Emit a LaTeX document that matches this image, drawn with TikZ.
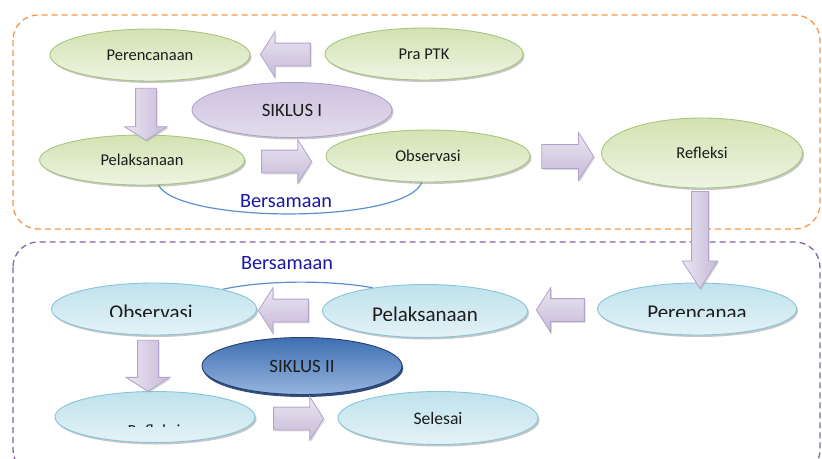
\documentclass[tikz,border=0pt]{standalone}
\usepackage{fontspec}
\setmainfont{Carlito}
\usetikzlibrary{shapes.geometric,shapes.arrows,shadows}
\pgfdeclarelayer{background}
\pgfsetlayers{background,main}
\definecolor{grnB}{HTML}{A9C47F}
\definecolor{grnT}{HTML}{D3E2B2}
\definecolor{grnL}{HTML}{EEF4E2}
\definecolor{bluB}{HTML}{86C5D8}
\definecolor{bluT}{HTML}{BFE2EC}
\definecolor{bluL}{HTML}{E4F2F7}
\definecolor{sikB}{HTML}{B0A1CC}
\definecolor{sikT}{HTML}{CDC2DF}
\definecolor{sikL}{HTML}{E3DCEC}
\definecolor{sknB}{HTML}{243F6E}
\definecolor{sknT}{HTML}{3F6FB2}
\definecolor{sknL}{HTML}{96B5DE}
\definecolor{arrB}{HTML}{B3A3CB}
\definecolor{arrL}{HTML}{EAE5F1}
\definecolor{arrD}{HTML}{C6BAD8}
\definecolor{orgD}{HTML}{F79646}
\definecolor{purD}{HTML}{8064A2}
\definecolor{curv}{HTML}{5B8FD0}
\definecolor{bers}{HTML}{1818A4}
\definecolor{txt}{HTML}{1C1C1C}
\tikzset{
  ell/.style={ellipse, inner sep=0pt, line width=0.9pt, text=txt,
    drop shadow={shadow xshift=1.5pt, shadow yshift=-2pt, fill=black!50, opacity=0.45}},
  grn/.style={ell, draw=grnB, top color=grnT, bottom color=grnL, font=\fontsize{16.5}{18}\selectfont},
  blu/.style={ell, draw=bluB, top color=bluT, bottom color=bluL},
  sikA/.style={ell, draw=sikB, top color=sikT, bottom color=sikL, font=\fontsize{18.8}{21}\selectfont},
  sikB2/.style={ell, draw=sknB, top color=sknT, bottom color=sknL, font=\fontsize{18.8}{21}\selectfont,
    drop shadow={shadow xshift=1pt, shadow yshift=-2.5pt, fill=sknB, opacity=0.9}},
  big/.style={font=\fontsize{21}{23}\selectfont, text=txt, anchor=base},
  blk/.style={single arrow, draw=arrB, line width=0.8pt, inner sep=0pt,
    minimum width=1pt, single arrow tip angle=115,
    drop shadow={shadow xshift=1.2pt, shadow yshift=-1.5pt, fill=black!40, opacity=0.35}},
  hor/.style={blk, top color=arrL, bottom color=arrD},
  ver/.style={blk, left color=arrL, right color=arrD},
  bsm/.style={text=bers, font=\fontsize{20.3}{22}\selectfont},
  link/.style={draw=curv, line width=1.2pt},
  frame/.style={rounded corners=25pt, line width=1.3pt, dash pattern=on 6pt off 4pt}
}
\begin{document}
\begin{tikzpicture}[x=1pt,y=-1pt]
\useasboundingbox (0,0) rectangle (822,458);
% top cycle
\node[grn, minimum width=200pt, minimum height=52pt] (per1) at (150,55) {Perencanaan};
\node[grn, minimum width=198pt, minimum height=52pt] (pra) at (424,54) {Pra PTK};
\node[sikA, minimum width=200pt, minimum height=55pt] (sik1) at (292,110) {SIKLUS I};
\node[grn, minimum width=205pt, minimum height=50pt] (pel1) at (142,160) {Pelaksanaan};
\node[grn, minimum width=204pt, minimum height=52pt] (obs1) at (428,156) {Observasi};
\node[grn, minimum width=201pt, minimum height=70pt] (ref1) at (702,153) {Refleksi};
% bottom cycle
\node[blu, minimum width=199pt, minimum height=52pt] (per2) at (697,309) {};
\node[blu, minimum width=205pt, minimum height=53pt] (pel2) at (425,311) {};
\node[blu, minimum width=205pt, minimum height=52pt] (obs2) at (154,309) {};
\node[sikB2, minimum width=200pt, minimum height=57pt] (sik2) at (302,366) {SIKLUS II};
\node[blu, minimum width=200pt, minimum height=51pt] (ref2) at (155,417) {};
\node[blu, font=\fontsize{17.6}{19}\selectfont, minimum width=200pt, minimum height=53pt] (sel) at (438,418) {Selesai};
% clipped texts of the bottom cycle
\begin{scope}
  \clip (600,290) rectangle (795,316.3);
  \node[big] (per2t) at (697,319.5) {Perencanaa};
\end{scope}
\begin{scope}
  \clip (325,290) rectangle (525,320.5);
  \node[big] (pel2t) at (425,321) {Pelaksanaan};
\end{scope}
\begin{scope}
  \clip (55,290) rectangle (255,316.5);
  \node[big] (obs2t) at (151,319.5) {Observasi};
\end{scope}
\begin{scope}
  \clip (55,380) rectangle (255,426.8);
  \node[font=\fontsize{17}{19}\selectfont, text=txt, anchor=base] (ref2t) at (154,436) {Refleksi};
\end{scope}
% block arrows
\node[hor, shape border rotate=180, minimum height=50pt, inner ysep=11pt, single arrow head extend=11.5pt] (a1) at (289,54.5) {};
\node[ver, shape border rotate=270, minimum height=52pt, inner xsep=10pt, single arrow head extend=11pt] (a2) at (146,111) {};
\node[hor, minimum height=50pt, inner ysep=11pt, single arrow head extend=10.5pt] (a3) at (283,161.5) {};
\node[hor, minimum height=52pt, inner ysep=11.5pt, single arrow head extend=12pt] (a4) at (564,156.5) {};
\node[ver, shape border rotate=270, minimum height=97pt, inner xsep=8pt, single arrow head extend=9.5pt, single arrow tip angle=66] (a5) at (700,233.5) {};
\node[hor, shape border rotate=180, minimum height=48pt, inner ysep=11pt, single arrow head extend=11pt] (a6) at (564,310) {};
\node[hor, shape border rotate=180, minimum height=50pt, inner ysep=11pt, single arrow head extend=11.5pt] (a7) at (287,310.5) {};
\node[ver, shape border rotate=270, minimum height=51pt, inner xsep=10pt, single arrow head extend=11.5pt] (a8) at (148,362.5) {};
\node[hor, minimum height=50pt, inner ysep=11pt, single arrow head extend=10.5pt] (a9) at (295,418.5) {};
% labels
\node[bsm] (b1) at (286,201) {Bersamaan};
\node[bsm] (b2) at (287,263) {Bersamaan};
\begin{pgfonlayer}{background}
  \draw[frame, draw=orgD] (13,15) rectangle (820,229);
  \draw[frame, draw=purD] (13,242) rectangle (820,475);
  \draw[link] (pel1.-57) .. controls (180,224) and (405,224) .. (obs1.-103);
  \draw[link] (obs2.16) .. controls (265,280) and (330,280) .. (pel2.156);
\end{pgfonlayer}
\end{tikzpicture}
\end{document}
